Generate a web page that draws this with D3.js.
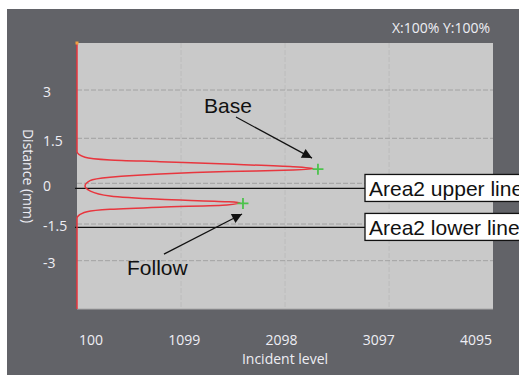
<!DOCTYPE html>
<html>
<head>
<meta charset="utf-8">
<script src="https://cdn.jsdelivr.net/npm/d3@7"></script>
<style>
  body { margin: 0; background: #fff; }
  text { font-family: "Open Sans", "Noto Sans", sans-serif; }
</style>
</head>
<body>
<div id="chart"></div>
<script>
// tick labels
const xTickLabels = ["100", "1099", "2098", "3097", "4095"];
const yTicks = [3, 1.5, 0, -1.5, -3];
const xGrid = [1099, 2098, 3097];

// profile: incident level vs distance (mm)
const profileLevel = [100, 100, 177, 417, 897, 1540, 2174, 2366, 2174, 1540, 897, 417, 225, 177,
  225, 417, 897, 1540, 1665, 1540, 897, 417, 196, 110, 100, 100];
const profileDist = [4.46, 1.05, 0.87, 0.78, 0.72, 0.64, 0.55, 0.49, 0.44, 0.39, 0.31, 0.20, 0.09, -0.10,
  -0.28, -0.47, -0.59, -0.68, -0.72, -0.80, -0.88, -0.96, -1.05, -1.21, -1.28, -4.97];

// peaks
const peakNames = ["Base", "Follow"];
const peakLevel = [2414, 1694];
const peakDist = [0.47, -0.74];

// area lines
const areaNames = ["Area2 upper line", "Area2 lower line"];
const areaDist = [-0.19, -1.64];

const W = 519, H = 375;
const plot = { left: 77, top: 43, right: 493, bottom: 309 };

const svg = d3.select("#chart").append("svg")
  .attr("width", W).attr("height", H);

// dark panel
svg.append("rect")
  .attr("x", 7).attr("y", 9)
  .attr("width", W - 7).attr("height", H - 9)
  .attr("fill", "#626368");

// plot background
svg.append("rect")
  .attr("x", plot.left).attr("y", plot.top)
  .attr("width", plot.right - plot.left).attr("height", plot.bottom - plot.top)
  .attr("fill", "#c9c9c9");
svg.append("line")
  .attr("x1", plot.left).attr("x2", plot.right)
  .attr("y1", plot.bottom).attr("y2", plot.bottom)
  .attr("stroke", "#a9a9a9");

const x = d3.scaleLinear().domain([100, 4095]).range([plot.left, plot.right]);
// the distance axis isn't evenly spaced in the original
const y = d3.scaleLinear().domain(yTicks).range([90, 138.3, 183.3, 224, 260.7]);

// grid
svg.append("g").selectAll("line")
  .data(xGrid)
  .join("line")
  .attr("x1", d => x(d)).attr("x2", d => x(d))
  .attr("y1", plot.top).attr("y2", plot.bottom)
  .attr("stroke", "#bcbcbc")
  .attr("stroke-dasharray", "5,2");

svg.append("g").selectAll("line")
  .data(yTicks)
  .join("line")
  .attr("x1", plot.left).attr("x2", plot.right)
  .attr("y1", d => y(d)).attr("y2", d => y(d))
  .attr("stroke", "#a2a2a2")
  .attr("stroke-dasharray", "5,2");

// y tick labels
svg.append("g").selectAll("text")
  .data(yTicks)
  .join("text")
  .attr("x", 43)
  .attr("y", d => y(d) + 2.3)
  .attr("dy", "0.35em")
  .attr("fill", "#eeeef4")
  .style("font-size", "14px")
  .text(d => d);

// x tick labels
const xLab = d3.scalePoint().domain(xTickLabels).range([103, 492]);
svg.append("g").selectAll("text")
  .data(xTickLabels)
  .join("text")
  .attr("x", d => xLab(d))
  .attr("y", 345)
  .attr("text-anchor", "end")
  .attr("fill", "#eeeef4")
  .style("font-size", "14px")
  .text(d => d);

// axis titles
svg.append("text")
  .attr("x", 285).attr("y", 364)
  .attr("text-anchor", "middle")
  .attr("fill", "#eeeef4")
  .style("font-size", "14px")
  .text("Incident level");

svg.append("text")
  .attr("transform", "translate(23,176) rotate(90)")
  .attr("text-anchor", "middle")
  .attr("fill", "#eeeef4")
  .style("font-size", "14px")
  .text("Distance (mm)");

svg.append("text")
  .attr("x", 490).attr("y", 33)
  .attr("text-anchor", "end")
  .attr("fill", "#eeeef4")
  .style("font-size", "14px")
  .text("X:100% Y:100%");

// area lines + label boxes
areaNames.forEach((name, i) => {
  const yy = y(areaDist[i]);
  svg.append("line")
    .attr("x1", plot.left - 2).attr("x2", 365)
    .attr("y1", yy).attr("y2", yy)
    .attr("stroke", "#111").attr("stroke-width", 1.3);
  svg.append("rect")
    .attr("x", 365).attr("y", yy - 14)
    .attr("width", 170).attr("height", 27)
    .attr("fill", "#fff")
    .attr("stroke", "#111").attr("stroke-width", 1.3);
  svg.append("text")
    .attr("x", 369).attr("y", yy + 8)
    .style("font-family", "'Liberation Sans', Arial, sans-serif")
    .style("font-size", "21px")
    .attr("fill", "#111")
    .text(name);
});

// profile line
const line = d3.line()
  .x((d, i) => x(profileLevel[i]))
  .y(d => y(d))
  .curve(d3.curveMonotoneY);

svg.append("path")
  .datum(profileDist)
  .attr("fill", "none")
  .attr("stroke", "#e8363e")
  .attr("stroke-width", 1.5)
  .attr("d", line);

svg.append("rect")
  .attr("x", plot.left - 1.5).attr("y", plot.top - 1.5)
  .attr("width", 3).attr("height", 3)
  .attr("fill", "#f0a040");

// peak markers
peakNames.forEach((name, i) => {
  const px = x(peakLevel[i]), py = y(peakDist[i]);
  svg.append("path")
    .attr("d", `M${px - 5.5},${py}H${px + 5.5}M${px},${py - 5.5}V${py + 5.5}`)
    .attr("stroke", "#4cc34c").attr("stroke-width", 1.8);
});

// annotations
svg.append("defs").append("marker")
  .attr("id", "arr")
  .attr("viewBox", "0 0 10 10")
  .attr("refX", 10).attr("refY", 5)
  .attr("markerWidth", 13).attr("markerHeight", 10)
  .attr("markerUnits", "userSpaceOnUse")
  .attr("orient", "auto")
  .append("path")
  .attr("d", "M0,0L10,5L0,10Z")
  .attr("fill", "#111");

const annoFrom = [[1627, 2.16], [935, -2.73]];
const annoTo = [[2357, 0.84], [1685, -1.13]];
annoFrom.forEach((f, i) => {
  svg.append("line")
    .attr("x1", x(f[0])).attr("y1", y(f[1]))
    .attr("x2", x(annoTo[i][0])).attr("y2", y(annoTo[i][1]))
    .attr("stroke", "#111").attr("stroke-width", 1.2)
    .attr("marker-end", "url(#arr)");
});

svg.append("text")
  .attr("x", 204).attr("y", 113)
  .style("font-family", "'Liberation Sans', Arial, sans-serif")
  .style("font-size", "21px")
  .attr("fill", "#111")
  .text(peakNames[0]);

svg.append("text")
  .attr("x", 127).attr("y", 275)
  .style("font-family", "'Liberation Sans', Arial, sans-serif")
  .style("font-size", "21px")
  .attr("fill", "#111")
  .text(peakNames[1]);
</script>
</body>
</html>
